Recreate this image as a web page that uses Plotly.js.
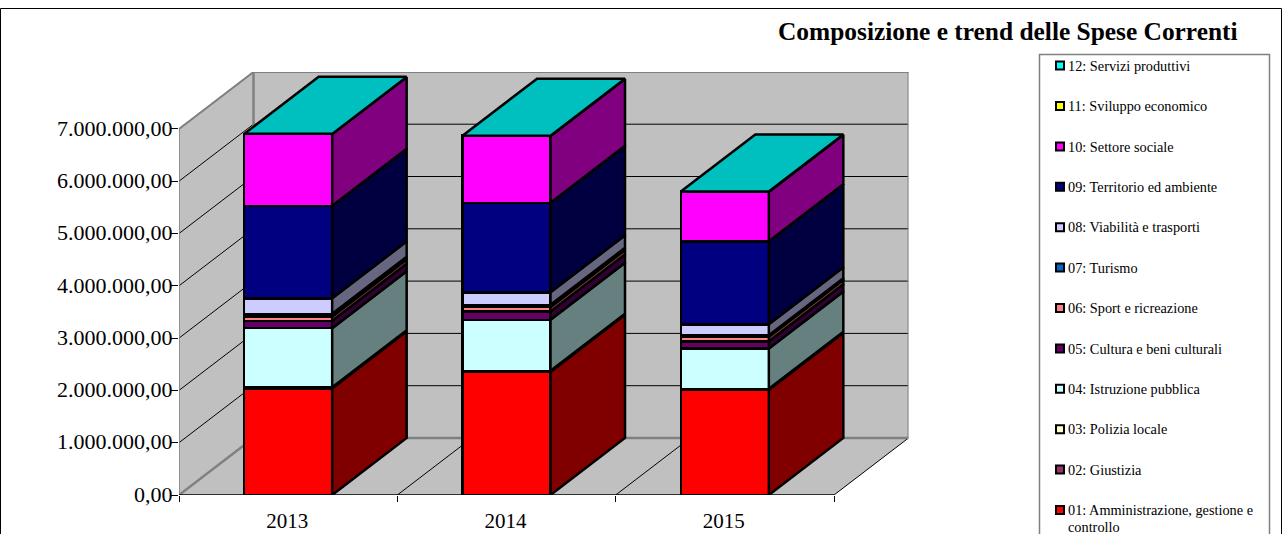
<!DOCTYPE html>
<html><head><meta charset="utf-8">
<script src="https://cdn.plot.ly/plotly-3.0.1.min.js"></script>
<style>html,body{margin:0;padding:0;background:#fff;overflow:hidden}#c{width:1282px;height:534px}</style>
</head><body><div id="c"></div>
<script>
const years = ['2013','2014','2015'];
const series = ['01: Amministrazione, gestione e<br>controllo','02: Giustizia','03: Polizia locale','04: Istruzione pubblica','05: Cultura e beni culturali','06: Sport e ricreazione','07: Turismo','08: Viabilità e trasporti','09: Territorio ed ambiente','10: Settore sociale','11: Sviluppo economico','12: Servizi produttivi'];
const colors = ['#FF0000','#993366','#FFFFCC','#CCFFFF','#660066','#FF8080','#0066CC','#CCCCFF','#000080','#FF00FF','#FFFF00','#00FFFF'];
const v01 = [2040000,2355000,2010000];
const v02 = [5000,5000,5000];
const v03 = [15000,15000,15000];
const v04 = [1130000,975000,770000];
const v05 = [140000,160000,138000];
const v06 = [85000,86000,86000];
const v07 = [50000,40000,30000];
const v08 = [295000,240000,210000];
const v09 = [1770000,1710000,1587000];
const v10 = [1370000,1280000,946000];
const v11 = [3000,3000,3000];
const v12 = [2000,2000,2000];
const values = [v01,v02,v03,v04,v05,v06,v07,v08,v09,v10,v11,v12];
const yTickVals = [0,1000000,2000000,3000000,4000000,5000000,6000000,7000000];
const yTickText = ['0,00','1.000.000,00','2.000.000,00','3.000.000,00','4.000.000,00','5.000.000,00','6.000.000,00','7.000.000,00'];

const W=1282,H=534, FONT='"Liberation Serif", "Times New Roman", serif';
const pxX=(655/3), pxY=52.3;            // pixels per category / per unit of 1M
const depthX=74.5/pxX, depthY=57/pxY*1e6; // oblique projection of the chart's depth
const barW=88/pxX, nCat=years.length;
const xMax=nCat+depthX, yMax=(495-72)/pxY*1e6;
const LW=2.5;
const dark=(hex,f)=>{const n=parseInt(hex.slice(1),16);const c=[n>>16,(n>>8)&255,n&255].map(a=>Math.round(a*f));return `rgb(${c.join(',')})`;};

const traces=[];
// stacked front faces
series.forEach((s,i)=>traces.push({type:'bar',x:years.map((_,k)=>k+0.5),y:values[i],width:barW,name:s.replace('<br>',' '),
  marker:{color:colors[i],line:{color:'#000',width:LW}},cliponaxis:false,showlegend:false,hoverinfo:'skip'}));
// side faces, then the top face of the stack
let base=years.map(()=>0);
series.forEach((s,i)=>{
  const X=[],Y=[];
  years.forEach((_,k)=>{
    const r=k+0.5+barW/2, y0=base[k], y1=base[k]+values[i][k];
    X.push(r,r+depthX,r+depthX,r,r,null);Y.push(y0,y0+depthY,y1+depthY,y1,y0,null);
    base[k]=y1;
  });
  traces.push({type:'scatter',mode:'lines',x:X,y:Y,fill:'toself',fillcolor:dark(colors[i],0.5),line:{color:'#000',width:LW},cliponaxis:false,showlegend:false,hoverinfo:'skip'});
});
{
  const X=[],Y=[];
  years.forEach((_,k)=>{
    const l=k+0.5-barW/2,r=k+0.5+barW/2,t=base[k];
    X.push(l,r,r+depthX,l+depthX,l,null);Y.push(t,t,t+depthY,t+depthY,t,null);
  });
  traces.push({type:'scatter',mode:'lines',x:X,y:Y,fill:'toself',fillcolor:dark(colors[11],0.75),line:{color:'#000',width:LW},cliponaxis:false,showlegend:false,hoverinfo:'skip'});
}
// legend rows
const rows=series.map((_,i)=>i);
traces.push({type:'scatter',mode:'markers',xaxis:'x2',yaxis:'y2',x:rows.map(()=>21),y:rows,cliponaxis:false,
  marker:{symbol:'square',size:8,color:colors,line:{color:'#000',width:2}},showlegend:false,hoverinfo:'skip'});
const legendText=[],legendY=[];
series.forEach((s,i)=>s.split('<br>').forEach((line,j)=>{legendText.push(line);legendY.push(i-0.04-j*0.42);}));
traces.push({type:'scatter',mode:'text',xaxis:'x2',yaxis:'y2',x:legendText.map(()=>29),
  y:legendY,text:legendText,textposition:'middle right',cliponaxis:false,
  textfont:{family:FONT,size:14.3,color:'#000'},showlegend:false,hoverinfo:'skip'});

// walls, floor and gridlines
const poly=(pts)=>'M'+pts.map(p=>p.join(' ')).join(' L')+' Z';
const top7=yTickVals[yTickVals.length-1];
const shapes=[
  {type:'rect',xref:'paper',yref:'paper',x0:0.5/W,x1:(W-0.5)/W,y0:-0.1,y1:1-8.5/H,line:{color:'#000',width:1},fillcolor:'#fff',layer:'below'},
  {type:'rect',xref:'paper',yref:'paper',x0:1039.5/W,x1:1269.5/W,y0:-0.1,y1:1-54.5/H,line:{color:'#808080',width:1.5},fillcolor:'#fff',layer:'below'},
  {type:'path',path:poly([[depthX,depthY],[xMax,depthY],[xMax,yMax],[depthX,yMax]]),fillcolor:'#C0C0C0',line:{width:0},layer:'below'},
  {type:'path',path:poly([[0,0],[depthX,depthY],[depthX,yMax],[0,top7]]),fillcolor:'#C0C0C0',line:{width:0},layer:'below'},
  {type:'path',path:poly([[0,0],[nCat,0],[xMax,depthY],[depthX,depthY]]),fillcolor:'#C0C0C0',line:{width:0},layer:'below'}
];
const seg=(x0,y0,x1,y1,color,width)=>shapes.push({type:'line',x0,y0,x1,y1,line:{color,width},layer:'below'});
yTickVals.slice(1).forEach(v=>{
  seg(0,v,depthX,v+depthY,'#000',1);
  seg(depthX,v+depthY,xMax,v+depthY,'#000',1);
});
for(let k=1;k<=nCat;k++) seg(k,0,k+depthX,depthY,'#000',1);
seg(0,0,depthX,depthY,'#808080',2.5);
seg(depthX,depthY,xMax,depthY,'#808080',2.5);
seg(depthX,depthY,depthX,yMax,'#808080',2.5);
seg(depthX,yMax,xMax,yMax,'#808080',2);
seg(xMax,depthY,xMax,yMax,'#808080',2);
seg(0,top7,depthX,yMax,'#808080',2);
seg(0,0,0,top7,'#808080',1.5);
seg(0,0,nCat,0,'#000',1.5);

const layout={
  width:W,height:H,margin:{l:0,r:0,t:0,b:0},paper_bgcolor:'#fff',plot_bgcolor:'rgba(0,0,0,0)',
  barmode:'stack',showlegend:false,hovermode:false,
  font:{family:FONT,color:'#000'},
  title:{text:'<b>Composizione e trend delle Spese Correnti</b>',font:{family:FONT,size:25.4,color:'#000'},xref:'paper',yref:'paper',x:778/W,xanchor:'left',y:1-31/H,yanchor:'middle',pad:{t:0,b:0,l:0,r:0}},
  xaxis:{domain:[179/W,(179+xMax*pxX)/W],range:[0,xMax],anchor:'y',tickmode:'array',tickvals:years.map((_,k)=>k+0.5),ticktext:years,
    ticks:'outside',ticklen:0,tickfont:{family:FONT,size:21,color:'#000'},ticklabelstandoff:7,ticklabelshift:-1,showgrid:false,zeroline:false,showline:false,
    minor:{tickmode:'array',tickvals:[0,1,2,3],ticks:'outside',ticklen:6,tickwidth:1,tickcolor:'#000',showgrid:false}},
  yaxis:{domain:[(H-495)/H,(H-72)/H],range:[0,yMax],anchor:'x',tickmode:'array',tickvals:yTickVals,ticktext:yTickText,
    ticks:'outside',ticklen:7,tickwidth:1,tickcolor:'#000',tickfont:{family:FONT,size:22,color:'#000'},ticklabelstandoff:-6,ticklabelshift:-1,showgrid:false,zeroline:false,showline:false},
  xaxis2:{domain:[1039/W,1269/W],range:[0,230],anchor:'y2',visible:false},
  yaxis2:{domain:[0,(H-54)/H],range:[-0.594,11.287],anchor:'x2',visible:false},
  shapes
};
Plotly.newPlot('c',traces,layout,{displayModeBar:false,staticPlot:true});
</script></body></html>
